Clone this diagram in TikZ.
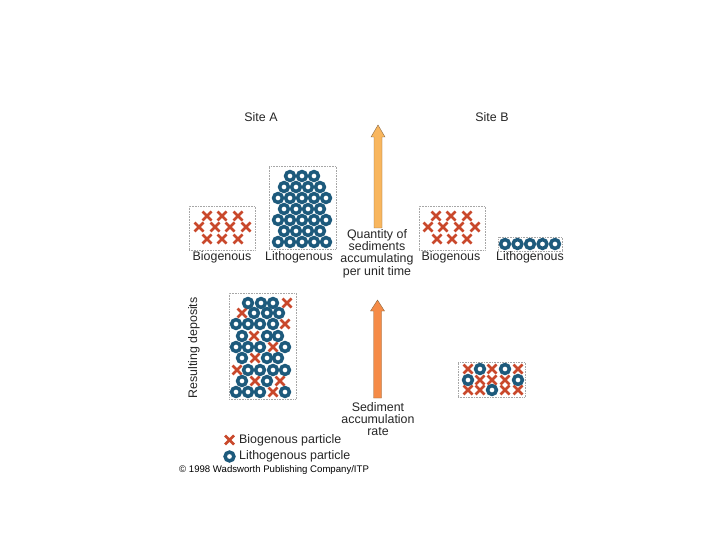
\documentclass[tikz,border=0pt]{standalone}
\usepackage{fontspec}
\setmainfont{Liberation Sans}
\definecolor{xcol}{HTML}{C9482B}
\definecolor{rcol}{HTML}{1D5A7C}
\definecolor{arrA}{HTML}{F8B65E}
\definecolor{arrB}{HTML}{F58B47}
\definecolor{arrline}{HTML}{8C6A44}
\begin{document}
\begin{tikzpicture}[x=1pt,y=-1pt,
  box/.style={draw=gray!70, line width=0.6pt, densely dotted, inner sep=0pt},
  lbl/.style={font=\fontsize{12.4}{12.3}\selectfont, inner sep=0pt, align=center, text=black!85},
  xm/.pic={\draw[xcol, line width=2.7pt] (-4.5,-4.5)--(4.5,4.5) (-4.5,4.5)--(4.5,-4.5);},
  rg/.pic={\draw[rcol, line width=3.5pt, fill=white] (0,0) circle (4.4pt);}
]
\useasboundingbox (0,0) rectangle (720,540);
\fill[white] (0,0) rectangle (720,540);

% titles
\node[lbl] (siteA) at (261,117) {Site A};
\node[lbl] (siteB) at (492,117) {Site B};

% boxes
\node[box, minimum width=66pt, minimum height=44pt] (bioA) at (222,228) {};
\node[box, minimum width=67pt, minimum height=83pt] (lithA) at (302.5,207.5) {};
\node[box, minimum width=66pt, minimum height=44pt] (bioB) at (452,228) {};
\node[box, minimum width=64pt, minimum height=14pt] (lithB) at (530,244) {};
\node[box, minimum width=67pt, minimum height=106pt] (resA) at (262.5,346) {};
\node[box, minimum width=67pt, minimum height=35pt] (resB) at (491.5,379.5) {};

% box labels
\node[lbl] (lbioA) at (222,257.5) {Biogenous};
\node[lbl] (llithA) at (299,257.5) {Lithogenous};
\node[lbl] (lbioB) at (451,257.5) {Biogenous};
\node[lbl] (llithB) at (530,257.5) {Lithogenous};

% biogenous A
\foreach \x/\y in {207/216,222/216,238/216,199/227,215/227,230/227,246/227,207/239,222/239,238/239}
  \pic at (\x,\y) {xm};
% biogenous B
\foreach \x/\y in {436/216,451/216,467/216,428/227,443/227,459/227,475/227,437/239,452/239,467/239}
  \pic at (\x,\y) {xm};
% lithogenous A
\foreach \y/\xs in {176/{290,302,314},187/{284,296,308,320},198/{278,290,302,314,326},209/{284,296,308,320},220/{278,290,302,314,326},231/{284,296,308,320},242/{278,290,302,314,326}}
  \foreach \x in \xs
    \pic at (\x,\y) {rg};
% lithogenous B
\foreach \x in {505,517.5,530,542.5,555}
  \pic at (\x,244) {rg};

% resulting deposits A
\foreach \x/\y in {287/303,242/313,285/324,254/336,273/347,255/358,237/370,255/381,280/381,273/392}
  \pic at (\x,\y) {xm};
\foreach \x/\y in {248/303,261/303,273/303,254/313,267/313,279/313,236/324,248/324,260/324,273/324,242/336,267/336,278/336,236/347,248/347,260/347,285/347,242/358,267/358,278/358,248/370,260/370,273/370,285/370,242/381,267/381,236/392,248/392,260/392,285/392}
  \pic at (\x,\y) {rg};

% resulting deposits B
\foreach \x/\y in {468/369,492/369,518/369,480/380,492/380,505/380,468/390,480/390,505/390,518/390}
  \pic at (\x,\y) {xm};
\foreach \x/\y in {480/369,505/369,468/380,518/380,492/390}
  \pic at (\x,\y) {rg};

% arrows
\filldraw[fill=arrA, draw=arrline, line width=0.4pt]
  (374,228) -- (374,137) -- (371,137) -- (378,125) -- (385,137) -- (382,137) -- (382,228) -- cycle;
\filldraw[fill=arrB, draw=arrline, line width=0.4pt]
  (373.5,398) -- (373.5,311) -- (370.5,311) -- (377.5,300) -- (384.5,311) -- (381.5,311) -- (381.5,398) -- cycle;

\node[lbl, anchor=north] (qty) at (377,229) {Quantity of\\sediments\\accumulating\\per unit time};
\node[lbl, anchor=north] (rate) at (378,402) {Sediment\\accumulation\\rate};

\node[lbl, rotate=90] (resdep) at (194,348) {Resulting deposits};

% legend
\pic at (229.5,440) {xm};
\node[lbl, anchor=west] (legx) at (239,440) {Biogenous particle};
\pic at (229.5,456.5) {rg};
\node[lbl, anchor=west] (legr) at (239,456.5) {Lithogenous particle};
\node[font=\fontsize{9.6}{10}\selectfont, inner sep=0pt, anchor=west] (copy) at (179,470) {© 1998 Wadsworth Publishing Company/ITP};
\end{tikzpicture}
\end{document}
